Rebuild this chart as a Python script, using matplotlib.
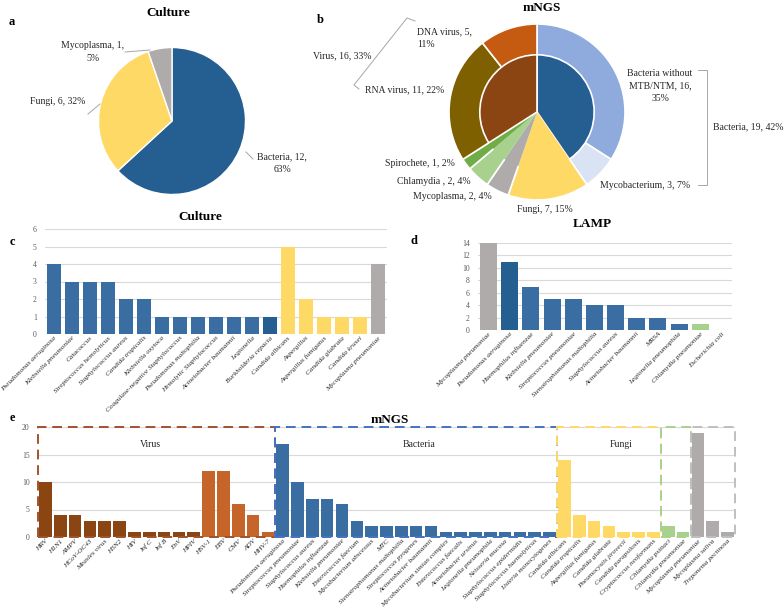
import matplotlib
matplotlib.use("Agg")
import matplotlib.pyplot as plt
from matplotlib.patches import Rectangle
from matplotlib.lines import Line2D

plt.rcParams['font.family'] = ['Liberation Serif', 'DejaVu Serif']

W, H = 784, 614

# ---- data ----
# a: culture pie
culture_groups = ['Bacteria', 'Fungi', 'Mycoplasma']
culture_group_counts = [12, 6, 1]
culture_group_pct = [63, 32, 5]

# b: mNGS nested pie
mngs_inner = ['Bacteria', 'Fungi', 'Mycoplasma', 'Chlamydia ', 'Spirochete', 'Virus']
mngs_inner_counts = [19, 7, 2, 2, 1, 16]
mngs_inner_pct = [42, 15, 4, 4, 2, 33]
mngs_outer = ['Bacteria without MTB/NTM', 'Mycobacterium', 'Fungi', 'Mycoplasma',
              'Chlamydia ', 'Spirochete', 'RNA virus', 'DNA virus']
mngs_outer_counts = [16, 3, 7, 2, 2, 1, 11, 5]
mngs_outer_pct = [35, 7, 15, 4, 4, 2, 22, 11]

# c: culture bars
culture_species = ['Pseudomonas aeruginosa', 'Klebsiella pneumoniae', 'Catacoccus',
                   'Streptococcus hemolyticus', 'Staphylococcus aureus', 'Candida tropicalis',
                   'Klebsiella oxytoca', 'Coagulase-negative Staphylococcus',
                   'Pseudomonas maltophilia', 'Hemolytic Staphylococcus',
                   'Acinetobacter baumannii', 'Legionella', 'Burkholderia cepacia',
                   'Candida albicans', 'Aspergillus', 'Aspergillus fumigatus',
                   'Candida glabrata', 'Candida krusei', 'Mycoplasma pneumoniae']
culture_counts = [4, 3, 3, 3, 2, 2, 1, 1, 1, 1, 1, 1, 1, 5, 2, 1, 1, 1, 4]

# d: LAMP bars
lamp_species = ['Mycoplasma pneumoniae', 'Pseudomonas aeruginosa', 'Haemophilus influenzae',
                'Klebsiella pneumoniae', 'Streptococcus pneumoniae',
                'Stenotrophomonas maltophilia', 'Staphylococcus aureus',
                'Acinetobacter baumannii', 'MRSA', 'Legionella pneumophila',
                'Chlamydia pneumoniae', 'Escherichia coli']
lamp_counts = [14, 11, 7, 5, 5, 4, 4, 2, 2, 1, 1, 0]

# e: mNGS bars by group
rna_virus = ['HRV', 'H1N1', 'AMPV', 'HCoV-OC43', 'Measles virus', 'H3N2', 'HIV',
             'Inf C', 'Inf B', 'EnV', 'HPIV']
rna_virus_counts = [10, 4, 4, 3, 3, 3, 1, 1, 1, 1, 1]
dna_virus = ['HSV-1', 'EBV', 'CMV', 'ADV', 'HHV-7']
dna_virus_counts = [12, 12, 6, 4, 1]
bacteria = ['Pseudomonas aeruginosa', 'Streptococcus pneumoniae', 'Staphylococcus aureus',
            'Haemophilus influenzae', 'Klebsiella pneumoniae', 'Enterococcus faecium',
            'Mycobacterium abscessus', 'MTC', 'Stenotrophomonas maltophilia',
            'Streptococcus pyogenes', 'Acinetobacter baumannii',
            'Mycobacterium simian complex', 'Enterococcus faecalis', 'Acinetobacter ursinus',
            'Legionella pneumophila', 'Neisseria mucosa', 'Staphylococcus epidermidis',
            'Staphylococcus haemolyticus', 'Listeria monocytogenes']
bacteria_counts = [17, 10, 7, 7, 6, 3, 2, 2, 2, 2, 2, 1, 1, 1, 1, 1, 1, 1, 1]
fungi = ['Candida albicans', 'Candida tropicalis', 'Aspergillus fumigatus',
         'Candida glabrata', 'Pneumocystis jirovecii', 'Candida parapsilosis',
         'Cryptococcus neoformans']
fungi_counts = [14, 4, 3, 2, 1, 1, 1]
chlamydia = ['Chlamydia psittaci', 'Chlamydia pneumoniae']
chlamydia_counts = [2, 1]
others = ['Mycoplasma pneumoniae', 'Mycoplasma saliva', 'Treponema pectinosa']
others_counts = [19, 3, 1]

# ---- colours ----
BLUE_D = '#255E91'
BLUE = '#3A6EA2'
YEL = '#FFD966'
GREY = '#AFABAB'
GRN_L = '#A9D18E'
GRN = '#70AD47'
BROWN = '#8B4513'
ORANGE = '#C5652A'
TXT = '#262626'
LEAD = '#A6A6A6'
LS = 1.5


def fx(x):
    return x / W


def fy(y):
    return 1 - y / H


def ftext(x, y, s, **kw):
    kw.setdefault('fontsize', 7)
    kw.setdefault('color', TXT)
    kw.setdefault('va', 'center')
    fig.text(fx(x), fy(y), s, **kw)


def fline(pts, color=LEAD):
    xs = [fx(p[0]) for p in pts]
    ys = [fy(p[1]) for p in pts]
    fig.add_artist(Line2D(xs, ys, color=color, lw=0.7, transform=fig.transFigure))


def style_bar_ax(ax, ymax, step):
    for s in ax.spines.values():
        s.set_visible(False)
    ax.set_ylim(0, ymax)
    ax.set_yticks(range(0, ymax + 1, step))
    ax.yaxis.grid(True, color='#D9D9D9', lw=0.8)
    ax.set_axisbelow(True)
    ax.tick_params(axis='y', length=0, labelsize=5.5, labelcolor='#595959', pad=6)
    ax.tick_params(axis='x', length=0, pad=1)


def set_names(ax, labels):
    ax.set_xticks(range(len(labels)))
    ax.set_xticklabels(labels, rotation=45, ha='right', rotation_mode='anchor',
                       fontstyle='italic', fontsize=5.2, color=TXT)


fig = plt.figure(figsize=(W / 100, H / 100), dpi=100)

# ---- a ----
r = 73.5
ax_a = fig.add_axes([fx(172 - r), fy(121 + r), 2 * r / W, 2 * r / H])
ax_a.pie(culture_group_counts, colors=[BLUE_D, YEL, GREY], startangle=90,
         counterclock=False, wedgeprops=dict(edgecolor='white', linewidth=1))
ax_a.set_xlim(-1, 1)
ax_a.set_ylim(-1, 1)
ftext(168, 13, 'Culture', ha='center', fontsize=9.5, fontweight='bold', color='black')
ftext(12, 22, 'a', ha='center', fontsize=9, fontweight='bold', color='black')
ftext(282, 163, '%s, %d,\n%d%%' % (culture_groups[0], culture_group_counts[0], culture_group_pct[0]),
      ha='center', linespacing=LS)
ftext(30, 102, '%s, %d, %d%%' % (culture_groups[1], culture_group_counts[1], culture_group_pct[1]),
      ha='left')
ftext(93, 52, '%s, %d,\n%d%%' % (culture_groups[2], culture_group_counts[2], culture_group_pct[2]),
      ha='center', linespacing=LS)
fline([(125, 52), (150, 50)])
fline([(88, 114), (100, 104)])
fline([(246, 152), (253, 159)])

# ---- b ----
r = 88
ax_b = fig.add_axes([fx(537 - r), fy(112 + r), 2 * r / W, 2 * r / H])
outer_cols = ['#8FAADC', '#DAE3F3', YEL, GREY, GRN_L, GRN, '#7F6000', '#C55A11']
inner_cols = [BLUE_D, YEL, GREY, GRN_L, GRN, BROWN]
ax_b.pie(mngs_outer_counts, colors=outer_cols, radius=1, startangle=90, counterclock=False,
         wedgeprops=dict(edgecolor='white', linewidth=1.2))
inner_w, _ = ax_b.pie(mngs_inner_counts, colors=inner_cols, radius=0.65, startangle=90,
                      counterclock=False, wedgeprops=dict(edgecolor='white', linewidth=1.2))
for i in (1, 2, 3, 4):
    inner_w[i].set_linewidth(0)
ax_b.set_xlim(-1, 1)
ax_b.set_ylim(-1, 1)
ftext(542, 8, 'mNGS', ha='center', fontsize=9.5, fontweight='bold', color='black')
ftext(320, 20, 'b', ha='center', fontsize=9, fontweight='bold', color='black')

ftext(417, 38, '%s, %d,\n%d%%' % (mngs_outer[7], mngs_outer_counts[7], mngs_outer_pct[7]),
      ha='left', linespacing=LS)
ftext(313, 56, '%s, %d, %d%%' % (mngs_inner[5], mngs_inner_counts[5], mngs_inner_pct[5]), ha='left')
ftext(365, 90, '%s, %d, %d%%' % (mngs_outer[6], mngs_outer_counts[6], mngs_outer_pct[6]), ha='left')
fline([(415, 21), (407, 18), (354, 85), (359, 89)])
ftext(385, 163, '%s, %d, %d%%' % (mngs_outer[5], mngs_outer_counts[5], mngs_outer_pct[5]), ha='left')
ftext(397, 181, '%s, %d, %d%%' % (mngs_outer[4], mngs_outer_counts[4], mngs_outer_pct[4]), ha='left')
ftext(413, 197, '%s, %d, %d%%' % (mngs_outer[3], mngs_outer_counts[3], mngs_outer_pct[3]), ha='left')
ftext(517, 210, '%s, %d, %d%%' % (mngs_outer[2], mngs_outer_counts[2], mngs_outer_pct[2]), ha='left')
ftext(600, 186, '%s, %d, %d%%' % (mngs_outer[1], mngs_outer_counts[1], mngs_outer_pct[1]), ha='left')
ftext(660, 86, 'Bacteria without\nMTB/NTM, %d,\n%d%%' % (mngs_outer_counts[0], mngs_outer_pct[0]),
      ha='center', linespacing=LS)
ftext(713, 127, '%s, %d, %d%%' % (mngs_inner[0], mngs_inner_counts[0], mngs_inner_pct[0]), ha='left')
fline([(698, 70), (707, 70), (707, 185), (698, 185)])

# ---- c ----
ax_c = fig.add_axes([fx(45), fy(334), 342 / W, 105 / H])
c_cols = [BLUE] * 12 + [BLUE_D] + [YEL] * 5 + [GREY]
ax_c.bar(range(len(culture_species)), culture_counts, width=0.83, color=c_cols)
ax_c.set_xlim(-0.5, len(culture_species) - 0.5)
style_bar_ax(ax_c, 6, 1)
set_names(ax_c, culture_species)
ftext(200, 217, 'Culture', ha='center', fontsize=9.5, fontweight='bold', color='black')
ftext(12, 242, 'c', ha='center', fontsize=9, fontweight='bold', color='black')

# ---- d ----
ax_d = fig.add_axes([fx(478), fy(330), 254 / W, 87 / H])
d_cols = [GREY, BLUE_D] + [BLUE] * 8 + [GRN_L, BLUE]
ax_d.bar(range(len(lamp_species)), lamp_counts, width=0.8, color=d_cols)
ax_d.set_xlim(-0.5, len(lamp_species) - 0.5)
style_bar_ax(ax_d, 14, 2)
set_names(ax_d, lamp_species)
ftext(592, 224, 'LAMP', ha='center', fontsize=9.5, fontweight='bold', color='black')
ftext(414, 241, 'd', ha='center', fontsize=9, fontweight='bold', color='black')

# ---- e ----
ax_e = fig.add_axes([fx(38), fy(537), 697 / W, 110 / H])
groups = [(rna_virus, rna_virus_counts, BROWN), (dna_virus, dna_virus_counts, ORANGE),
          (bacteria, bacteria_counts, BLUE), (fungi, fungi_counts, YEL),
          (chlamydia, chlamydia_counts, GRN_L), (others, others_counts, GREY)]
names, start = [], 0
bounds = [0]
for labs, vals, col in groups:
    ax_e.bar(range(start, start + len(vals)), vals, width=0.85, color=col, zorder=2)
    names += labs
    start += len(vals)
    bounds.append(start)
ax_e.set_xlim(-0.5, start - 0.5)
style_bar_ax(ax_e, 20, 5)
set_names(ax_e, names)

# dashed boxes: virus spans rna+dna, then each other group
box_spans = [(bounds[0], bounds[2], '#A0522D'), (bounds[2], bounds[3], '#4472C4'),
             (bounds[3], bounds[4], '#FFD966'), (bounds[4], bounds[5], '#A9D18E'),
             (bounds[5], bounds[6], '#BFBFBF')]
for a, b, col in box_spans:
    ax_e.add_patch(Rectangle((a - 0.5, 0), b - a, 20, fill=False, edgecolor=col, lw=1.4,
                             linestyle=(0, (5, 3)), zorder=3, clip_on=False))
ax_e.text(7.1, 16.8, 'Virus', ha='center', va='center', fontsize=7, color=TXT)
ax_e.text(25.2, 16.8, 'Bacteria', ha='center', va='center', fontsize=7, color=TXT)
ax_e.text(38.8, 16.8, 'Fungi', ha='center', va='center', fontsize=7, color=TXT)
ftext(390, 420, 'mNGS', ha='center', fontsize=9.5, fontweight='bold', color='black')
ftext(12, 418, 'e', ha='center', fontsize=9, fontweight='bold', color='black')

fig.savefig('out.png', dpi=100)
